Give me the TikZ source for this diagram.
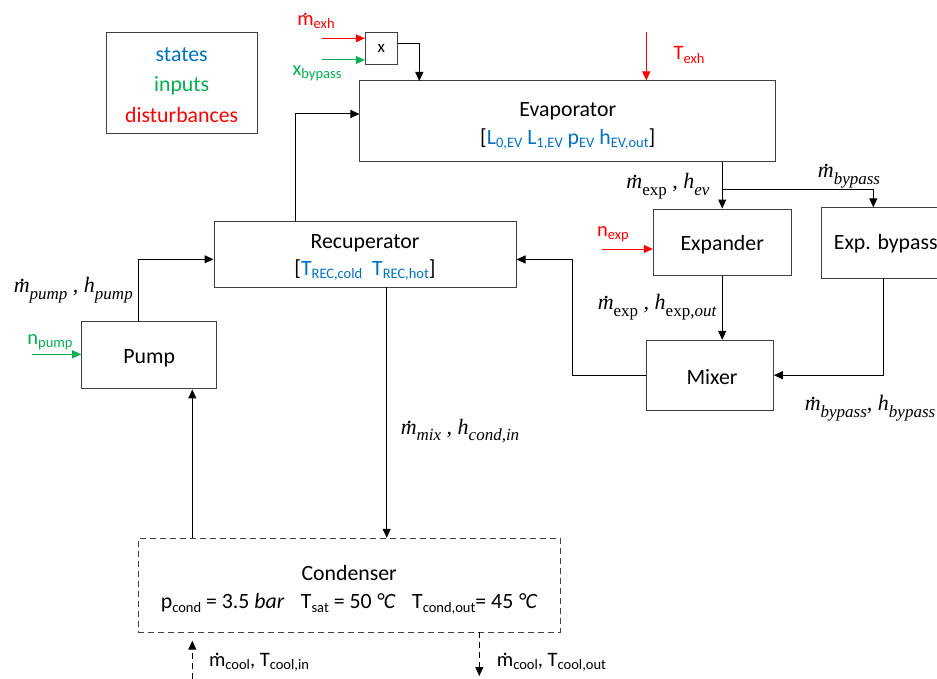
\documentclass[tikz,border=0pt]{standalone}
\usepackage{fontspec}
\setmainfont{Carlito}
\newfontfamily\tms{Liberation Serif}
\usetikzlibrary{arrows.meta}
\definecolor{stateblue}{RGB}{0,112,192}
\definecolor{inputgreen}{RGB}{0,176,80}
\definecolor{distred}{RGB}{255,0,0}
\newsavebox\mglyph
% m with an overdot (mass flow); the optional argument nudges the dot for italics
\newcommand\mdot[1][0pt]{\leavevmode\sbox\mglyph{m}\rlap{\hbox to\wd\mglyph{\hss\kern#1\raisebox{0.5em}{.}\hss}}\usebox\mglyph}
% subscripts for the sans labels and for the serif flow labels
\newcommand\lo[1]{\raisebox{-0.15em}{\fontsize{14.5}{15}\selectfont #1}}
\newcommand\tlo[1]{\raisebox{-0.3em}{\fontsize{17}{18}\selectfont #1}}
\newcommand\flow[1]{{\tms\itshape\fontsize{22}{24}\selectfont #1}}
\begin{document}
\begin{tikzpicture}[x=1pt,y=-1pt,
  arr/.style={-{Triangle[length=9pt,width=8pt]}, line width=1pt},
  box/.style={draw=black!75, line width=1pt, rectangle, inner sep=0pt},
  boxtext/.style={align=center, inner sep=0pt, font=\fontsize{21.8}{28}\selectfont},
  lbl/.style={inner sep=0pt, font=\fontsize{20.5}{22}\selectfont},
  coolant/.style={arr, dash pattern=on 6pt off 4pt}]
\useasboundingbox (0,0) rectangle (937,679);

% legend
\node[box, minimum width=151pt, minimum height=101pt,
  label={[name=legend-t, boxtext, font=\fontsize{21.8}{30.5}\selectfont, yshift=-2pt]center:
    \textcolor{stateblue}{states}\\\textcolor{inputgreen}{inputs}\\\textcolor{distred}{disturbances}}]
  (legend) at (181.7,82.8) {};

% components
\node[box, minimum width=32pt, minimum height=31.7pt, font=\fontsize{17}{20}\selectfont]
  (mult) at (381.3,48.2) {x};
\node[box, minimum width=415.7pt, minimum height=80.7pt,
  label={[name=evap-t, boxtext, yshift=-4.5pt]center:
    Evaporator\\{[}\textcolor{stateblue}{L\lo{0,EV} L\lo{1,EV} p\lo{EV} h\lo{EV,out}}{]}}]
  (evap) at (567.8,121.3) {};
\node[box, minimum width=302pt, minimum height=65.6pt,
  label={[name=recup-t, boxtext, font=\fontsize{21.8}{26.5}\selectfont, yshift=-3pt]center:
    Recuperator\\{[}\textcolor{stateblue}{T\lo{REC,cold}\ \ T\lo{REC,hot}}{]}}]
  (recup) at (365,254.5) {};
\node[box, minimum width=135pt, minimum height=67.3pt,
  label={[name=pump-t, boxtext, yshift=-2.5pt]center:Pump}]
  (pump) at (149.2,355.3) {};
\node[box, minimum width=137.7pt, minimum height=66.3pt,
  label={[name=exp-t, boxtext, yshift=-2pt]center:Expander}]
  (exp) at (722.2,242.2) {};
\node[box, minimum width=128.3pt, minimum height=71pt,
  label={[name=byp-t, boxtext, yshift=-1pt]center:Exp. bypass}]
  (byp) at (885.8,242.8) {};
\node[box, minimum width=126.6pt, minimum height=69.7pt,
  label={[name=mix-t, boxtext, xshift=2pt, yshift=-1.5pt]center:Mixer}]
  (mix) at (710,375.2) {};
\node[box, dash pattern=on 6pt off 4pt, minimum width=421.7pt, minimum height=94pt,
  label={[name=cond-t, boxtext, yshift=-4.5pt]center:
    Condenser\\p\lo{cond} = 3.5 \textit{bar}\hspace{0.75em}T\lo{sat} = 50 \textit{°C}\hspace{0.75em}T\lo{cond,out}= 45 \textit{°C}}]
  (cond) at (349.2,585.3) {};

% turning points and free ends of the connectors
\coordinate (mexh) at (321.7,38.3);
\coordinate (xbp) at (321.7,60);
\coordinate (evin) at (419.3,81);
\coordinate (texh) at (646.3,32);
\coordinate (split) at (722.2,190);
\coordinate (bpin) at (873.3,207.3);
\coordinate (nexp) at (602,249);
\coordinate (bpout) at (883.3,278.3);
\coordinate (mixturn) at (572.7,300);
\coordinate (recin) at ([yshift=-5pt]recup.east);
\coordinate (multout) at ([yshift=5pt]mult.east);
\coordinate (rturn) at (295,114);
\coordinate (pturn) at (138.3,259.3);
\coordinate (npump) at (32,354.3);
\coordinate (rdown) at (386.7,287.3);
\coordinate (cup) at (192.3,538.3);
\coordinate (cin) at (192.3,679);
\coordinate (cintip) at (192.3,640.7);
\coordinate (cout) at (479.3,632.3);
\coordinate (couttip) at (479.3,676);

% exhaust gas inputs
\draw[arr, distred] (mexh) -- (mexh -| mult.west);
\draw[arr, inputgreen] (xbp) -- (xbp -| mult.west);
\draw[arr] (multout) -| (evin);
\draw[arr, distred] (texh) -- (texh |- evap.north);

% working fluid loop
\draw[arr] (evap.south -| exp.north) -- (exp.north);
\draw[arr] (split) -| (bpin);
\draw[arr, distred] (nexp) -- (nexp -| exp.west);
\draw[arr] (exp.south) -- (exp.south |- mix.north);
\draw[arr] (bpout) |- (mix.east);
\draw[arr] (mix.west) -- (mix.west -| mixturn) -- (mixturn |- recin) -- (recin);
\draw[arr] (rturn |- recup.north) -- (rturn) -- (rturn -| evap.west);
\draw[arr] (pturn |- pump.north) -- (pturn) -- (pturn -| recup.west);
\draw[arr, inputgreen] (npump) -- (npump -| pump.west);
\draw[arr] (rdown) -- (rdown |- cond.north);
\draw[arr] (cup) -- (cup |- pump.south);

% coolant
\draw[coolant] (cin) -- (cintip);
\draw[coolant] (cout) -- (couttip);

% signal labels
\node[lbl, text=distred] (lmexh) at (316,21) {\mdot\lo{exh}};
\node[lbl, text=inputgreen] (lxbp) at (317,73) {x\lo{bypass}};
\node[lbl, text=distred] (ltexh) at (689,55) {T\lo{exh}};
\node[lbl, text=distred] (lnexp) at (613,234) {n\lo{exp}};
\node[lbl, text=inputgreen] (lnpump) at (50,342) {n\lo{pump}};
\node[lbl] (lcin) at (259,662) {\mdot\lo{cool}, T\lo{cool,in}};
\node[lbl] (lcout) at (551.5,662) {\mdot\lo{cool}, T\lo{cool,out}};

% flow labels
\node[lbl] (fev) at (668,186) {\flow{\mdot[0.1em]\tlo{\upshape exp} , h\tlo{ev}}};
\node[lbl] (fbp) at (849,176) {\flow{\mdot[0.1em]\tlo{bypass}}};
\node[lbl] (fexp) at (657,307) {\flow{\mdot[0.1em]\tlo{\upshape exp} , h\tlo{{\upshape exp,}out}}};
\node[lbl] (fbpm) at (870,408) {\flow{\mdot[0.1em]\tlo{bypass}, h\tlo{bypass}}};
\node[lbl] (fpump) at (73.3,290) {\flow{\mdot[0.1em]\tlo{pump} , h\tlo{pump}}};
\node[lbl] (fmix) at (460,431) {\flow{\mdot[0.1em]\tlo{mix} , h\tlo{cond,in}}};
\end{tikzpicture}
\end{document}
